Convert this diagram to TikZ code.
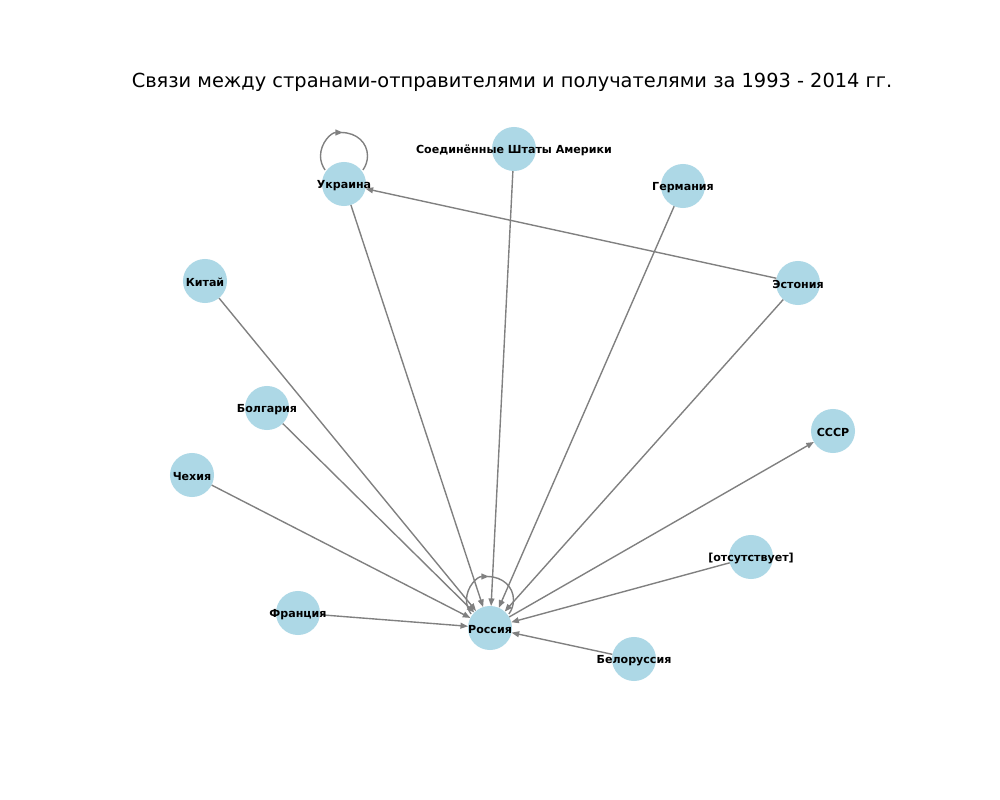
\documentclass[tikz,border=0pt]{standalone}
\usepackage{fontspec}
\setmainfont{DejaVu Sans}
\usetikzlibrary{arrows.meta}
\pgfdeclarelayer{bg}
\pgfdeclarelayer{edges}
\pgfsetlayers{bg,edges,main}
\begin{document}
\begin{tikzpicture}[x=0.01in,y=-0.01in,
  vtxs/.style={circle,fill={rgb,255:red,173;green,216;blue,230},draw=none,minimum size=0.44in,inner sep=0pt,outer sep=0pt},
  lbl/.style={font=\fontsize{8}{9.6}\selectfont\bfseries,inner sep=0pt,yshift=-1.1pt},
  edge/.style={draw={rgb,255:red,128;green,128;blue,128},line width=1pt,-{Triangle[length=5.5pt,width=4.2pt]}},
  plain/.style={draw={rgb,255:red,128;green,128;blue,128},line width=1pt}]
\begin{pgfonlayer}{bg}
\fill[white] (0,0) rectangle (1000,800);
\end{pgfonlayer}
\useasboundingbox (0,0) rectangle (1000,800);
\node[font=\fontsize{14}{16}\selectfont] (title) at (512,82) {Связи между странами-отправителями и получателями за 1993 - 2014 гг.};
% nodes
\node[vtxs] (ukr) at (344,184) {};
\node[vtxs] (usa) at (514,149) {};
\node[vtxs] (ger) at (683,186) {};
\node[vtxs] (chn) at (205,281) {};
\node[vtxs] (est) at (798,283) {};
\node[vtxs] (bul) at (267,408) {};
\node[vtxs] (ussr) at (833,431) {};
\node[vtxs] (cze) at (192,475) {};
\node[vtxs] (abs) at (751,557) {};
\node[vtxs] (fra) at (298,613) {};
\node[vtxs] (rus) at (490,628) {};
\node[vtxs] (blr) at (634,659) {};
% labels
\node[lbl] (lukr) at (ukr) {Украина};
\node[lbl] (lusa) at (usa) {Соединённые Штаты Америки};
\node[lbl] (lger) at (ger) {Германия};
\node[lbl] (lchn) at (chn) {Китай};
\node[lbl] (lest) at (est) {Эстония};
\node[lbl] (lbul) at (bul) {Болгария};
\node[lbl] (lussr) at (ussr) {СССР};
\node[lbl] (lcze) at (cze) {Чехия};
\node[lbl] (labs) at (abs) {[отсутствует]};
\node[lbl] (lfra) at (fra) {Франция};
\node[lbl] (lrus) at (rus) {Россия};
\node[lbl] (lblr) at (blr) {Белоруссия};
\begin{pgfonlayer}{edges}
\draw[edge] (ukr) -- (rus);
\draw[edge] (usa) -- (rus);
\draw[edge] (ger) -- (rus);
\draw[edge] (chn) -- (rus);
\draw[edge] (est) -- (rus);
\draw[edge] (est) -- (ukr);
\draw[edge] (bul) -- (rus);
\draw[edge] (cze) -- (rus);
\draw[edge] (fra) -- (rus);
\draw[edge] (blr) -- (rus);
\draw[edge] (abs) -- (rus);
\draw[edge] (rus) -- (ussr);
% self loops
\foreach \n in {ukr,rus}{
  \draw[edge] ([shift={(-18.9,-14)}]\n.center) .. controls ([shift={(-21.8,-18)}]\n.center) and ([shift={(-23.5,-23)}]\n.center) .. ([shift={(-23.5,-28)}]\n.center)
     .. controls ([shift={(-23.5,-41)}]\n.center) and ([shift={(-13,-51.5)}]\n.center) .. ([shift={(-1,-51.5)}]\n.center);
  \draw[plain] ([shift={(-3,-51.5)}]\n.center) .. controls ([shift={(13,-51.5)}]\n.center) and ([shift={(23.5,-41)}]\n.center) .. ([shift={(23.5,-28)}]\n.center)
     .. controls ([shift={(23.5,-23)}]\n.center) and ([shift={(21.8,-18)}]\n.center) .. ([shift={(18.9,-14)}]\n.center);
}
\end{pgfonlayer}
\end{tikzpicture}
\end{document}
